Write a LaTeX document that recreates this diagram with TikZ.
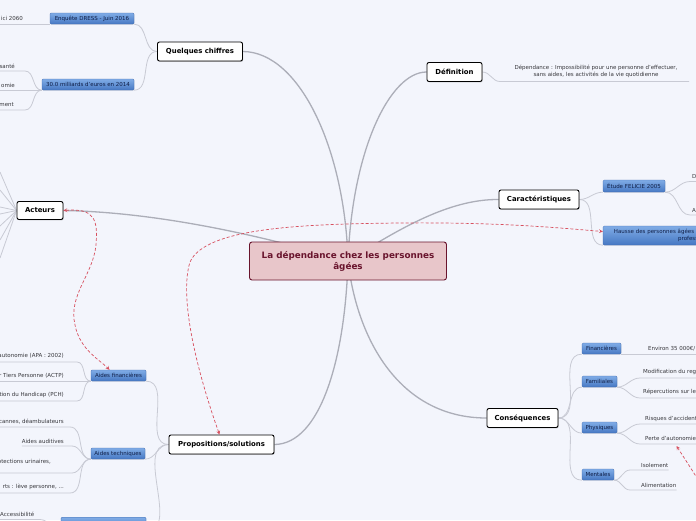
\documentclass[tikz,border=0pt]{standalone}
\usepackage{fontspec}
\setmainfont{DejaVu Sans}
\usetikzlibrary{shadows,backgrounds}

\definecolor{sfondo}{RGB}{243,245,252}
\definecolor{rosaRadice}{RGB}{232,198,202}
\definecolor{bordoRadice}{RGB}{105,20,45}
\definecolor{bluChiaro}{RGB}{128,172,230}
\definecolor{bluScuro}{RGB}{70,120,195}
\definecolor{bluBordo}{RGB}{62,106,175}
\definecolor{bluTesto}{RGB}{15,30,70}
\definecolor{grigioRamo}{RGB}{172,174,184}
\definecolor{grigioFilo}{RGB}{200,202,212}
\definecolor{testoFoglia}{RGB}{55,55,60}
\definecolor{rossoRel}{RGB}{215,80,95}

\begin{document}
\begin{tikzpicture}[
		x=1pt, y=-1pt, >=stealth,
		radice/.style={rectangle, rounded corners=2.5pt, fill=rosaRadice,
			draw=bordoRadice, line width=0.9pt, text=bordoRadice,
			font=\fontsize{8.8}{11}\selectfont\bfseries, align=center,
			inner sep=0pt, minimum width=197pt, minimum height=38pt},
		ramo/.style={rectangle, rounded corners=2pt, fill=white, draw=black,
			line width=0.9pt, font=\fontsize{6.9}{8}\selectfont\bfseries,
			inner sep=0pt, minimum height=19pt,
			drop shadow={shadow xshift=0.7pt, shadow yshift=-0.9pt, opacity=0.4}},
		sotto/.style={rectangle, rounded corners=1.2pt, top color=bluChiaro,
			bottom color=bluScuro, draw=bluBordo, line width=0.3pt,
			text=bluTesto, font=\fontsize{5.5}{6.6}\selectfont, align=center,
			inner sep=0pt, minimum height=11pt,
			drop shadow={shadow xshift=0.4pt, shadow yshift=-0.6pt, opacity=0.25}},
		foglia/.style={font=\fontsize{5.5}{6.7}\selectfont, text=testoFoglia,
			inner sep=0pt, align=center},
		legame/.style={draw=grigioRamo, line width=1.3pt},
		filo/.style={draw=grigioFilo, line width=0.8pt},
		relazione/.style={draw=rossoRel, line width=0.7pt,
			dash pattern=on 3pt off 2pt}]
	
	\useasboundingbox (0,0) rectangle (696,520);
	
	%% nodo centrale e rami principali
	\node[radice] (rad) at (348,261) {La dépendance chez les personnes\\âgées};
	\node[ramo, minimum width=85pt] (qc) at (200,51.5) {Quelques chiffres};
	\node[ramo, minimum width=55pt] (def) at (454.5,72) {Définition};
	\node[ramo, minimum width=80pt] (car) at (539,199.5) {Caractéristiques};
	\node[ramo, minimum width=71pt] (cons) at (522.5,418) {Conséquences};
	\node[ramo, minimum width=105pt] (prop) at (221.5,444.5) {Propositions/solutions};
	\node[ramo, minimum width=46pt, minimum height=18pt] (act) at (40,210.5) {Acteurs};
	
	%% sotto-argomenti (blu)
	\node[sotto, minimum width=84pt] (enq) at (92,18.5) {Enquête DRESS - Juin 2016};
	\node[sotto, minimum width=92pt] (mil) at (88,84.5) {30.0 milliards d'euros en 2014};
	\node[sotto, minimum width=62pt, minimum height=12pt] (fel) at (634,186) {Étude FELICIE 2005};
	\node[sotto, minimum width=190pt, minimum height=19pt] (hau) at (698,235.5)
		{Hausse des personnes âgées dépendantes et des besoins en\\professionnels};
	\node[sotto, minimum width=39pt] (fin) at (601.5,348.5) {Financières};
	\node[sotto, minimum width=35pt] (fam) at (599.5,381.5) {Familiales};
	\node[sotto, minimum width=35pt] (phy) at (599.5,427.5) {Physiques};
	\node[sotto, minimum width=32pt] (men) at (598,474.5) {Mentales};
	\node[sotto, minimum width=55pt] (afi) at (118.5,375.5) {Aides financières};
	\node[sotto, minimum width=54pt] (ate) at (118,453.5) {Aides techniques};
	\node[sotto, minimum width=85pt, minimum height=14pt, anchor=north] (ahu) at (103.5,517) {};
	
	%% foglie: testo sopra la linea
	\node[foglia, anchor=east] (f11) at (23,18) {ici 2060};
	\node[foglia, anchor=east] (f21) at (15,66) {santé};
	\node[foglia, anchor=east] (f22) at (15,85) {omie};
	\node[foglia, anchor=east] (f23) at (14,105) {ement};
	\node[foglia] (fdef) at (596,71.5)
		{Dépendance : Impossibilité pour une personne d'effectuer,\\sans aides, les activités de la vie quotidienne};
	\node[foglia, anchor=west] (ffe1) at (692,176) {D};
	\node[foglia, anchor=west] (ffe2) at (692,210) {A};
	\node[foglia, anchor=west] (ffi) at (648,349) {Environ 35 000€/};
	\node[foglia, anchor=west] (ffa1) at (643,372) {Modification du reg};
	\node[foglia, anchor=west] (ffa2) at (643,392) {Répercutions sur le};
	\node[foglia, anchor=west] (fph1) at (645,418.5) {Risques d'accident};
	\node[foglia, anchor=west] (fph2) at (645,438) {Perte d'autonomie};
	\node[foglia, anchor=west] (fme1) at (641,465) {Isolement};
	\node[foglia, anchor=west] (fme2) at (641,485) {Alimentation};
	\node[foglia, anchor=east] (fa1) at (64,355.5) {autonomie (APA : 2002)};
	\node[foglia, anchor=east] (fa2) at (64,375.5) {r Tiers Personne (ACTP)};
	\node[foglia, anchor=east] (fa3) at (64,395) {tion du Handicap (PCH)};
	\node[foglia, anchor=east] (ft1) at (64,421.5) {cannes, déambulateurs};
	\node[foglia, anchor=east] (ft2) at (64,441) {Aides auditives};
	\node[foglia, anchor=east] (ft3) at (51,461.5) {otections urinaires,};
	\node[foglia, anchor=east] (ft4) at (64,487) {rts : lève personne, ...};
	\node[foglia, anchor=west] (fac) at (0,514) {Accessibilité};
	
	%% estremi liberi delle linee
	\coordinate (bordoS) at (0,0);
	\coordinate (bordoD) at (700,0);
	\coordinate (fuori) at (714,505);
	\coordinate (pa) at (676.5,446);
	
	\begin{pgfonlayer}{background}
		\fill[sfondo] (0,0) rectangle (696,520);
		
		%% legami dal nodo centrale
		\draw[legame] (rad.center) .. controls (345,150) and (300,52) .. (qc.east);
		\draw[legame] (rad.center) .. controls (352,150) and (390,72) .. (def.west);
		\draw[legame] (rad.center) .. controls (400,228) and (450,199) .. (car.west);
		\draw[legame] (rad.center) .. controls (250,232) and (150,212) .. (act.east);
		\draw[legame] (rad.center) .. controls (345,360) and (320,444) .. (prop.east);
		\draw[legame] (rad.center) .. controls (357,340) and (400,418) .. (cons.west);
		
		%% Quelques chiffres
		\draw[filo] (qc.west) to[out=180,in=0] (enq.south east);
		\draw[filo] (qc.west) to[out=180,in=0] (mil.south east);
		\draw[filo] (enq.south west) -- (bordoS |- enq.south west);
		\draw[filo] (mil.south west) to[out=180,in=0] (25,71) -- (bordoS |- 25,71);
		\draw[filo] (mil.south west) -- (bordoS |- mil.south west);
		\draw[filo] (mil.south west) to[out=180,in=0] (25,110) -- (bordoS |- 25,110);
		
		%% Définition
		\draw[filo] (def.east) to[out=0,in=180] (500,81.5) -- (689,81.5);
		
		%% Caractéristiques
		\draw[filo] (car.east) to[out=0,in=180] (fel.south west);
		\draw[filo] (car.east) to[out=0,in=180] (hau.south west);
		\draw[filo] (fel.south east) to[out=0,in=180] (690,181.5) -- (bordoD |- 0,181.5);
		\draw[filo] (fel.south east) to[out=0,in=180] (690,215) -- (bordoD |- 0,215);
		
		%% Conséquences
		\foreach \s in {fin,fam,phy,men}
			\draw[filo] (cons.east) to[out=0,in=180] (\s.south west);
		\draw[filo] (fin.south east) -- (bordoD |- fin.south east);
		\draw[filo] (fam.south east) to[out=0,in=180] (640,378) -- (bordoD |- 0,378);
		\draw[filo] (fam.south east) to[out=0,in=180] (640,398) -- (bordoD |- 0,398);
		\draw[filo] (phy.south east) to[out=0,in=180] (640,424) -- (bordoD |- 0,424);
		\draw[filo] (phy.south east) to[out=0,in=180] (640,444) -- (bordoD |- 0,444);
		\draw[filo] (men.south east) to[out=0,in=180] (630,470) -- (fme1.east |- 0,470);
		\draw[filo] (men.south east) to[out=0,in=180] (630,490) -- (fme2.east |- 0,490);
		
		%% Propositions/solutions
		\draw[filo] (prop.west) to[out=180,in=0] (afi.south east);
		\draw[filo] (prop.west) to[out=180,in=0] (ate.south east);
		\draw[filo] (prop.west) to[out=180,in=0] (ahu.south east);
		\draw[filo] (afi.south west) to[out=180,in=0] (77,362) -- (bordoS |- 0,362);
		\draw[filo] (afi.south west) -- (bordoS |- afi.south west);
		\draw[filo] (afi.south west) to[out=180,in=0] (77,401) -- (bordoS |- 0,401);
		\draw[filo] (ate.south west) to[out=180,in=0] (70,427) -- (bordoS |- 0,427);
		\draw[filo] (ate.south west) to[out=180,in=0] (72,446) -- (ft2.west |- 0,446);
		\draw[filo] (ate.south west) to[out=180,in=0] (72,473) -- (bordoS |- 0,473);
		\draw[filo] (ate.south west) to[out=180,in=0] (70,493) -- (bordoS |- 0,493);
		\draw[filo] (ahu.south west) to[out=180,in=0] (40,519.5) -- (bordoS |- 0,519.5);
		
		%% Acteurs: ventaglio verso il bordo
		\foreach \yy in {172,190,207,214,226,240,258}
			\draw[filo] (act.west) -- (bordoS |- 0,\yy);
	\end{pgfonlayer}
	
	%% relazioni tratteggiate
	\draw[relazione, <->] (act.east) .. controls (95,208) and (98,220) .. (96,245)
		.. controls (93,275) and (68,295) .. (75,325)
		.. controls (80,350) and (100,360) .. ([xshift=-9pt]afi.north);
	\draw[relazione, <->] ([xshift=-2pt]prop.north) .. controls (200,380) and (178,300) .. (190,262)
		.. controls (205,228) and (300,224) .. (400,223)
		.. controls (500,222) and (560,228) .. ([yshift=4pt]hau.west);
	\draw[relazione, ->] (fuori) .. controls (692,470) .. (pa);
	
\end{tikzpicture}
\end{document}
